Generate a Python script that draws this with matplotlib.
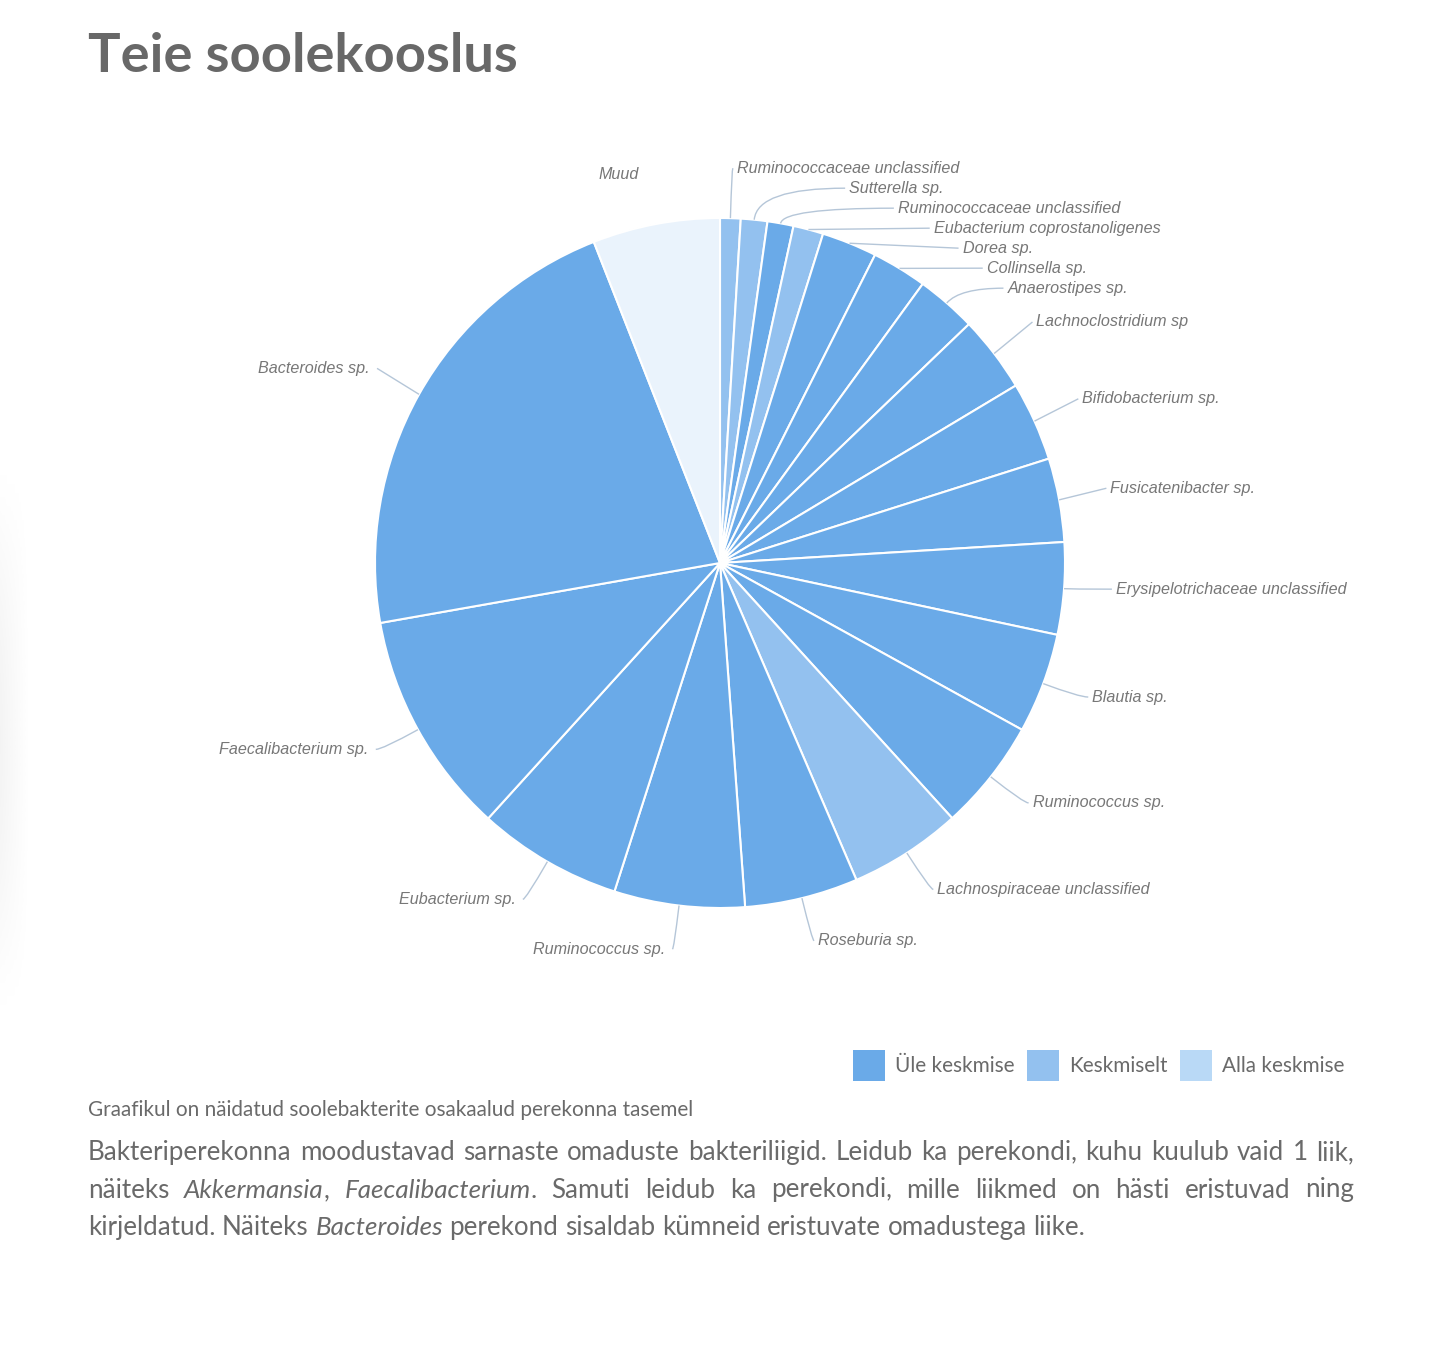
import numpy as np
import matplotlib
matplotlib.use("Agg")
import matplotlib.pyplot as plt
from matplotlib.patches import Rectangle, PathPatch
from matplotlib.path import Path

# ---------------- data ----------------
genera = [
    "Ruminococcaceae unclassified", "Sutterella sp.", "Ruminococcaceae unclassified",
    "Eubacterium coprostanoligenes", "Dorea sp.", "Collinsella sp.", "Anaerostipes sp.",
    "Lachnoclostridium sp", "Bifidobacterium sp.", "Fusicatenibacter sp.",
    "Erysipelotrichaceae unclassified", "Blautia sp.", "Ruminococcus sp.",
    "Lachnospiraceae unclassified", "Roseburia sp.", "Ruminococcus sp.",
    "Eubacterium sp.", "Faecalibacterium sp.", "Bacteroides sp.", "Muud",
]
shares = [0.96, 1.24, 1.22, 1.41, 2.59, 2.58, 2.83, 3.57, 3.71, 3.92,
          4.31, 4.69, 5.22, 5.28, 5.31, 6.11, 6.78, 10.49, 21.82, 5.96]
levels = ["kesk", "kesk", "ule", "kesk", "ule", "ule", "ule", "ule", "ule", "ule",
          "ule", "ule", "ule", "kesk", "ule", "ule", "ule", "ule", "ule", "muud"]
legend_keys = ["ule", "kesk", "alla"]
legend_labels = ["Üle keskmise", "Keskmiselt", "Alla keskmise"]

title = "Teie soolekooslus"
caption = "Graafikul on näidatud soolebakterite osakaalud perekonna tasemel"
para_lines = [
    "Bakteriperekonna moodustavad sarnaste omaduste bakteriliigid. Leidub ka perekondi, kuhu kuulub vaid 1 liik,",
    "näiteks *Akkermansia*, *Faecalibacterium*. Samuti leidub ka perekondi, mille liikmed on hästi eristuvad ning",
    "kirjeldatud. Näiteks *Bacteroides* perekond sisaldab kümneid eristuvate omadustega liike.",
]

# ---------------- style / layout ----------------
COLORS = {"ule": "#6aaae8", "kesk": "#93c1ef", "alla": "#b9d9f6", "muud": "#eaf3fc"}
W, H = 1442, 1362
CX, CY, R = 720, 563, 345
RL = 392           # label circle radius
GAP = 20           # min vertical gap between labels
TXT = "#6a6a6a"
LBL = "#777777"
CONN = "#b5c6d8"

fig = plt.figure(figsize=(W / 100, H / 100), dpi=100)
fig.patch.set_facecolor("white")
ax = fig.add_axes([0, 0, 1, 1])

# faint page shadow on the left edge
grad = np.linspace(0.955, 1.0, 30)[None, :] * np.ones((60, 1))
vfade = np.sin(np.linspace(0, np.pi, 60))[:, None]
img = 1 - (1 - grad) * vfade
ax.imshow(img, cmap="gray", vmin=0, vmax=1, extent=(0, 30, 1010, 470),
          aspect="auto", interpolation="bicubic", zorder=0)

wedges, _ = ax.pie(shares, colors=[COLORS[l] for l in levels], startangle=-90,
                   counterclock=True, center=(CX, CY), radius=R,
                   wedgeprops=dict(edgecolor="white", linewidth=1.5))
ax.set_xlim(0, W)
ax.set_ylim(H, 0)
ax.set_aspect("equal")
ax.axis("off")

renderer = fig.canvas.get_renderer()


def width_of(t):
    return t.get_window_extent(renderer).width


def fit(t, target):
    t.set_fontsize(t.get_fontsize() * target / width_of(t))
    return t


# ---------------- data labels (Highcharts-like distribution) ----------------
lab_font = dict(family="Liberation Sans", style="italic", color=LBL, fontsize=10.8)
probe = ax.text(0, 0, "Erysipelotrichaceae unclassified", **lab_font)
fit(probe, 230)
lab_fs = probe.get_fontsize()
probe.remove()

items = []
for w, name, lev in zip(wedges, genera, levels):
    th = np.deg2rad((w.theta1 + w.theta2) / 2)
    left = np.cos(th) < 0
    items.append(dict(th=th, left=left, name=name, lev=lev,
                      y=CY + RL * np.sin(th)))

for side in (False, True):
    grp = sorted([it for it in items if it["left"] == side], key=lambda d: d["y"])
    for i in range(1, len(grp)):
        grp[i]["y"] = max(grp[i]["y"], grp[i - 1]["y"] + GAP)

for it in items:
    th, yp = it["th"], it["y"]
    dx = np.sqrt(max(RL ** 2 - (yp - CY) ** 2, 0.0))
    sgn = -1 if it["left"] else 1
    pad = 7 if it["left"] else 4
    xc = CX + sgn * (dx + 1)
    xt = xc + sgn * pad
    yt = yp - 3
    ax.text(xt, yt, it["name"], ha="right" if it["left"] else "left", va="center",
            **{**lab_font, "fontsize": lab_fs})
    if it["lev"] == "muud":
        continue  # connector in the slice colour is invisible on white
    p0 = np.array([CX + R * np.cos(th), CY + R * np.sin(th)])
    p2 = np.array([xc, yt])
    p1 = (p0 + p2) / 2
    if abs(np.sin(th)) > 1e-3:
        s = (yt - CY) / np.sin(th)
        xi = CX + s * np.cos(th)
        if s > R + 2 and min(p0[0], p2[0]) - 1 <= xi <= max(p0[0], p2[0]) + 1:
            p1 = np.array([xi, yt])
    path = Path([p0, p1, p2], [Path.MOVETO, Path.CURVE3, Path.CURVE3])
    ax.add_patch(PathPatch(path, fill=False, edgecolor=CONN, lw=1.0))

# ---------------- title ----------------
t = ax.text(88, 72, title, ha="left", va="baseline", family="Lato",
            weight="bold", color="#686868", fontsize=40)
fit(t, 429)

# ---------------- legend ----------------
leg_x = [853, 1027, 1180]
leg_font = dict(family="Lato", color=TXT, fontsize=15)
probe = ax.text(0, 0, legend_labels[2], **leg_font)
fit(probe, 123)
leg_fs = probe.get_fontsize()
probe.remove()
for x0, key, lab in zip(leg_x, legend_keys, legend_labels):
    ax.add_patch(Rectangle((x0, 1050), 32, 31, facecolor=COLORS[key], edgecolor="none"))
    ax.text(x0 + 42, 1066, lab, ha="left", va="center", **{**leg_font, "fontsize": leg_fs})

# ---------------- caption ----------------
c = ax.text(88, 1110, caption, ha="left", va="center", family="Lato", color=TXT, fontsize=13)
fit(c, 605)

# ---------------- justified paragraph ----------------
def parse(line):
    words = []
    for wd in line.split(" "):
        segs = []
        parts = wd.split("*")
        for k, p in enumerate(parts):
            if p:
                segs.append((p, k % 2 == 1))
        words.append(segs)
    return words


base = dict(family="Lato", color=TXT)


def seg_width(s, ital, fs):
    tt = ax.text(0, 0, s, fontsize=fs, style="italic" if ital else "normal", **base)
    wv = width_of(tt)
    tt.remove()
    return wv


def word_width(segs, fs):
    return sum(seg_width(s, it, fs) for s, it in segs)


fs0 = 17.0
space0 = seg_width("n n", False, fs0) - seg_width("nn", False, fs0)
w3 = sum(word_width(wd, fs0) for wd in parse(para_lines[2])) + space0 * (len(parse(para_lines[2])) - 1)
pfs = fs0 * 995 / w3
space = seg_width("n n", False, pfs) - seg_width("nn", False, pfs)

x_left, x_right = 88, 1354
baselines = [1160, 1197.5, 1235]
for li, (line, yb) in enumerate(zip(para_lines, baselines)):
    words = parse(line)
    widths = [word_width(wd, pfs) for wd in words]
    if li < len(para_lines) - 1:
        gap = (x_right - x_left - sum(widths)) / (len(words) - 1)
    else:
        gap = space
    x = x_left
    for wd, wv in zip(words, widths):
        xx = x
        for s, ital in wd:
            ax.text(xx, yb, s, ha="left", va="baseline", fontsize=pfs,
                    style="italic" if ital else "normal", **base)
            xx += seg_width(s, ital, pfs)
        x += wv + gap

fig.savefig("out.png", dpi=100, facecolor="white")
